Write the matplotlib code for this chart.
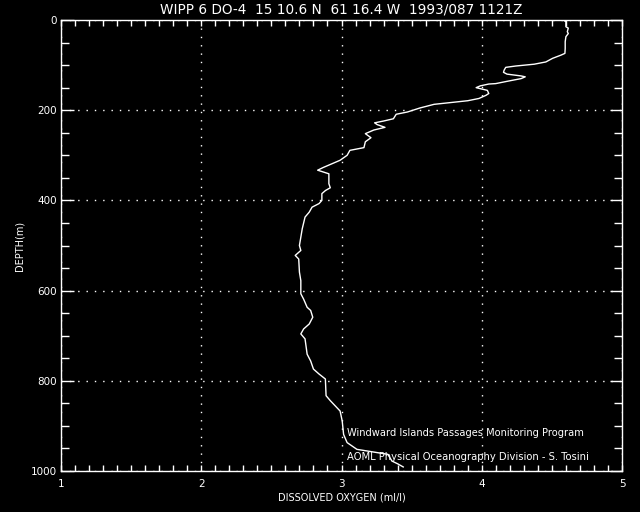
import matplotlib
matplotlib.use("Agg")
import matplotlib.pyplot as plt
from matplotlib.ticker import MultipleLocator

title = "WIPP 6 DO-4  15 10.6 N  61 16.4 W  1993/087 1121Z"
xlabel = "DISSOLVED OXYGEN (ml/l)"
ylabel = "DEPTH(m)"
credit1 = "Windward Islands Passages Monitoring Program"
credit2 = "AOML Physical Oceanography Division - S. Tosini"

oxygen = [4.583, 4.60, 4.60, 4.617, 4.61, 4.617, 4.60, 4.595, 4.595, 4.593, 4.564, 4.505,
          4.457, 4.374, 4.243, 4.171, 4.16, 4.155, 4.18, 4.28, 4.31, 4.28, 4.18, 4.10,
          4.05, 3.99, 3.96, 4.04, 4.05, 4.03, 3.98, 3.90, 3.78, 3.66, 3.56, 3.47,
          3.39, 3.37, 3.30, 3.236, 3.255, 3.31, 3.23, 3.17, 3.21, 3.17, 3.16, 3.06,
          3.04, 2.99, 2.93, 2.87, 2.83, 2.87, 2.91, 2.91, 2.92, 2.886, 2.86, 2.86,
          2.84, 2.79, 2.77, 2.74, 2.72, 2.70, 2.71, 2.67, 2.695, 2.70, 2.71, 2.71,
          2.73, 2.755, 2.78, 2.795, 2.77, 2.73, 2.71, 2.74, 2.755, 2.78, 2.80, 2.84,
          2.885, 2.89, 2.92, 2.99, 3.005, 3.015, 3.04, 3.11, 3.23, 3.33, 3.36, 3.40,
          3.44]
depth = [0, 4, 15, 18, 26, 30, 37, 48, 63, 74, 78, 85,
         93, 98, 102, 105, 111, 116, 120, 124, 126, 130, 136, 141,
         142, 146, 150, 156, 163, 167, 174, 179, 183, 187, 195, 204,
         209, 219, 224, 228, 232, 238, 244, 252, 261, 270, 283, 289,
         300, 311, 319, 327, 333, 337, 341, 363, 372, 378, 385, 400,
         407, 415, 426, 437, 463, 500, 511, 522, 530, 559, 578, 607,
         619, 637, 644, 659, 674, 685, 696, 707, 741, 756, 774, 785,
         796, 833, 844, 867, 889, 919, 937, 952, 958, 963, 978, 984,
         991]

fig = plt.figure(figsize=(6.4, 5.12), dpi=100, facecolor="black")
ax = fig.add_axes([61/640, 41/512, 561/640, 451/512], facecolor="black")

ax.plot(oxygen, depth, color="white", lw=1.0)

ax.set_xlim(1, 5)
ax.set_ylim(1000, 0)
ax.xaxis.set_major_locator(MultipleLocator(1))
ax.xaxis.set_minor_locator(MultipleLocator(0.1))
ax.yaxis.set_major_locator(MultipleLocator(200))
ax.yaxis.set_minor_locator(MultipleLocator(50))

for s in ax.spines.values():
    s.set_color("white")
    s.set_linewidth(1)

ax.tick_params(axis="x", which="both", direction="in", top=True, bottom=True,
               colors="white", labelsize=7.5, width=1, pad=6)
ax.tick_params(axis="x", which="minor", length=4)
ax.tick_params(axis="x", which="major", length=4)
ax.tick_params(axis="y", which="both", direction="in", left=True, right=True,
               colors="white", labelsize=7.5, width=1, pad=3)
ax.tick_params(axis="y", which="minor", length=6)
ax.tick_params(axis="y", which="major", length=9)

ax.grid(True, which="major", color="white", linestyle=(0, (1, 5)), lw=1)

ax.set_title(title, color="white", fontsize=9.8, pad=5)
ax.set_xlabel(xlabel, color="white", fontsize=7, labelpad=2)
ax.set_ylabel(ylabel, color="white", fontsize=7, labelpad=12)
ax.yaxis.set_label_coords(-0.065, 0.5)

ax.text(3.04, 915, credit1, color="white", fontsize=7.1, va="center", ha="left")
ax.text(3.04, 968, credit2, color="white", fontsize=7.2, va="center", ha="left")

fig.savefig("out.png", dpi=100, facecolor="black")
